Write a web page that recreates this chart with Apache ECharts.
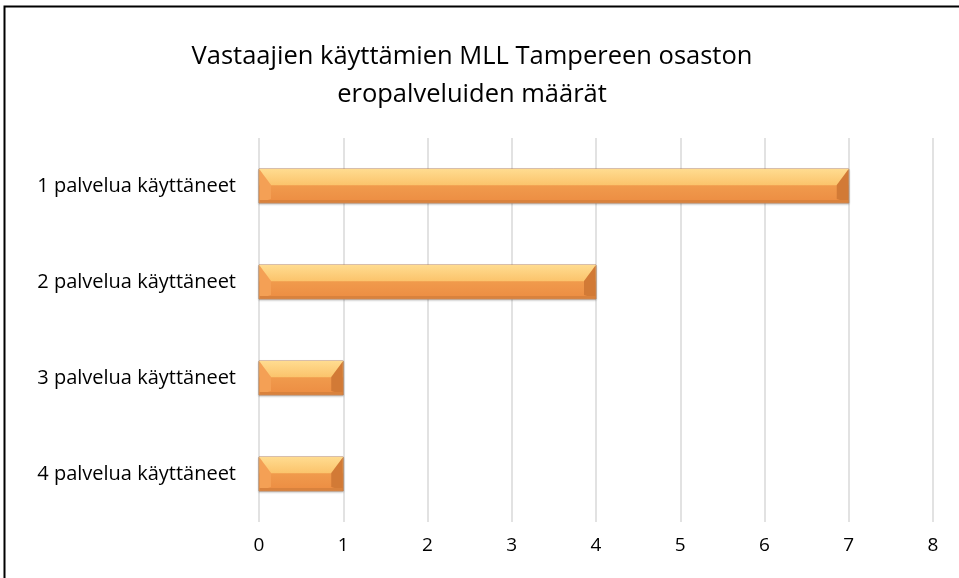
<!DOCTYPE html>
<html>
<head>
<meta charset="utf-8">
<script src="https://cdn.jsdelivr.net/npm/echarts@6/dist/echarts.min.js"></script>
<style>
  html, body { margin: 0; padding: 0; background: #fff; }
  #chart { width: 959px; height: 578px; }
</style>
</head>
<body>
<div id="chart"></div>
<script>
const categories = ['1 palvelua käyttäneet', '2 palvelua käyttäneet', '3 palvelua käyttäneet', '4 palvelua käyttäneet'];
const values = [7, 4, 1, 1];
const titleText = 'Vastaajien käyttämien MLL Tampereen osaston\neropalveluiden määrät';

const font = 'Open Sans';
const chart = echarts.init(document.getElementById('chart'));

// bevelled bar, drawn from axis coords
function renderBar(params, api) {
    const cat = api.value(0);
    const val = api.value(1);
    const p0 = api.coord([0, cat]);
    const p1 = api.coord([val, cat]);
    const h = 34;
    const x0 = p0[0], x1 = p1[0];
    const yt = p0[1] - h / 2, yb = p0[1] + h / 2;
    const b = Math.min(12, (x1 - x0) / 3);
    const ym = yt + 16;
    return {
        type: 'group',
        children: [
            {
                type: 'rect',
                shape: { x: x0, y: yt, width: x1 - x0, height: h },
                style: {
                    fill: new echarts.graphic.LinearGradient(0, 0, 0, 1, [
                        { offset: 0, color: '#FDD68A' },
                        { offset: 0.45, color: '#F9BE66' },
                        { offset: 0.5, color: '#F09A4C' },
                        { offset: 1, color: '#EC8C42' }
                    ]),
                    stroke: '#B98660',
                    lineWidth: 1,
                    shadowColor: 'rgba(0,0,0,0.2)',
                    shadowBlur: 2,
                    shadowOffsetY: 1
                }
            },
            {
                type: 'polygon',
                shape: { points: [[x0, yt], [x1, yt], [x1 - b, ym], [x0 + b, ym]] },
                style: {
                    fill: new echarts.graphic.LinearGradient(0, 0, 0, 1, [
                        { offset: 0, color: '#FFDC90' },
                        { offset: 1, color: '#FBC46C' }
                    ])
                }
            },
            {
                type: 'polygon',
                shape: { points: [[x0 + 0.5, yt + 0.5], [x0 + b, ym], [x0 + b, yb - 4], [x0 + 0.5, yb - 0.5]] },
                style: { fill: '#F4A055' }
            },
            {
                type: 'polygon',
                shape: { points: [[x1 - 0.5, yt + 0.5], [x1 - b, ym], [x1 - b, yb - 4], [x1 - 0.5, yb - 0.5]] },
                style: { fill: '#D27A36' }
            },
            {
                type: 'rect',
                shape: { x: x0 + 0.5, y: yb - 3, width: x1 - x0 - 1, height: 2.5 },
                style: { fill: '#D9823D' }
            }
        ]
    };
}

const option = {
    backgroundColor: '#fff',
    animation: false,
    title: {
        text: titleText,
        left: 467,
        top: 33,
        textAlign: 'center',
        textStyle: {
            fontFamily: font,
            fontSize: 25.5,
            fontWeight: 'normal',
            color: '#000',
            lineHeight: 38
        }
    },
    grid: {
        left: 259,
        right: 26,
        top: 138,
        bottom: 56
    },
    xAxis: {
        type: 'value',
        min: 0,
        max: 8,
        interval: 1,
        axisLine: { show: false },
        axisTick: { show: false },
        splitLine: { lineStyle: { color: '#D9D9D9', width: 1.5 } },
        axisLabel: {
            fontFamily: font,
            fontSize: 19,
            color: '#000',
            margin: 14
        }
    },
    yAxis: {
        type: 'category',
        inverse: true,
        data: categories,
        axisLine: { show: false },
        axisTick: { show: false },
        axisLabel: {
            fontFamily: font,
            fontSize: 20,
            color: '#000',
            margin: 23
        }
    },
    series: [{
        type: 'custom',
        renderItem: renderBar,
        encode: { x: 1, y: 0 },
        data: values.map((v, i) => [i, v])
    }],
    graphic: [{
        type: 'rect',
        shape: { x: 4.5, y: 6.5, width: 1000, height: 700 },
        style: { fill: 'none', stroke: '#000', lineWidth: 2 },
        silent: true
    }]
};

chart.setOption(option);
</script>
</body>
</html>
